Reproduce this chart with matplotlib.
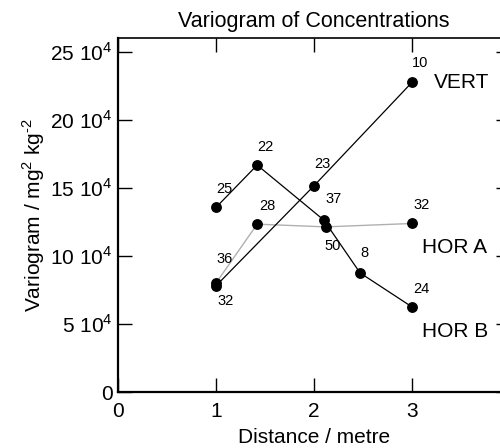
import numpy as np
import matplotlib.pyplot as plt

plt.rcParams['font.family'] = ['Liberation Sans', 'DejaVu Sans']
plt.rcParams['mathtext.fontset'] = 'custom'
plt.rcParams['mathtext.rm'] = 'Liberation Sans'

# data (distance in metre, variogram in mg^2 kg^-2)
vert_x = [1.0, 2.0, 3.0]
vert_y = [7.8e4, 15.15e4, 22.75e4]
vert_n = ['32', '23', '10']

hora_x = [1.0, 1.42, 2.12, 3.0]
hora_y = [8.0e4, 12.33e4, 12.13e4, 12.38e4]
hora_n = ['36', '28', '50', '32']

horb_x = [1.0, 1.42, 2.1, 2.47, 3.0]
horb_y = [13.56e4, 16.67e4, 12.63e4, 8.75e4, 6.25e4]
horb_n = ['25', '22', '37', '8', '24']

yticks = [0, 5e4, 10e4, 15e4, 20e4, 25e4]
ytick_labels = ['0', '5 10$^4$', '10 10$^4$', '15 10$^4$', '20 10$^4$', '25 10$^4$']

fig = plt.figure(figsize=(5, 4.48), dpi=100)
ax = fig.add_axes([0.236, 0.125, 0.784, 0.79])

ax.plot(hora_x, hora_y, color='#b0b0b0', lw=1.0, zorder=2)
ax.plot(horb_x, horb_y, color='black', lw=0.9, zorder=3)
ax.plot(vert_x, vert_y, color='black', lw=0.9, zorder=3)
for xs, ys in [(hora_x, hora_y), (horb_x, horb_y), (vert_x, vert_y)]:
    ax.plot(xs, ys, 'o', color='black', ms=6.8, zorder=4)

# pair counts beside the points (offsets in points)
def label(xs, ys, ns, offs):
    for x, y, n, o in zip(xs, ys, ns, offs):
        ax.annotate(n, (x, y), xytext=o, textcoords='offset points',
                    fontsize=10.5, ha='center', va='center')

label(vert_x, vert_y, vert_n, [(7, -11), (6, 16), (6, 14)])
label(hora_x, hora_y, hora_n, [(6, 17), (7, 13), (5, -14), (7, 13)])
label(horb_x, horb_y, horb_n, [(6, 13), (6, 13), (7, 15), (3, 14), (7, 13)])

# series names
ax.text(3.22, vert_y[-1], 'VERT', fontsize=15, va='center', ha='left')
ax.text(3.1, 10.6e4, 'HOR A', fontsize=15, va='center', ha='left')
ax.text(3.1, 4.45e4, 'HOR B', fontsize=15, va='center', ha='left')

ax.set_xlim(0, 4)
ax.set_ylim(0, 26e4)
ax.set_xticks([0, 1, 2, 3])
ax.set_xticklabels(['0', '1', '2', '3'])
ax.set_yticks(yticks)
ax.set_yticklabels(ytick_labels)
ax.tick_params(direction='in', length=10, width=1, labelsize=15,
               top=True, right=True, pad=4)
ax.tick_params(axis='x', pad=7)

for s in ['left', 'bottom']:
    ax.spines[s].set_linewidth(1.6)
ax.spines['top'].set_linewidth(1.2)
ax.spines['right'].set_linewidth(1.2)

ax.set_title('Variogram of Concentrations', fontsize=15.5, pad=8)
ax.set_xlabel('Distance / metre', fontsize=15, labelpad=5)
ax.set_ylabel(r'Variogram / mg$^2$ kg$^{\text{-2}}$', fontsize=15, labelpad=2)

fig.savefig('out.png', dpi=100)
